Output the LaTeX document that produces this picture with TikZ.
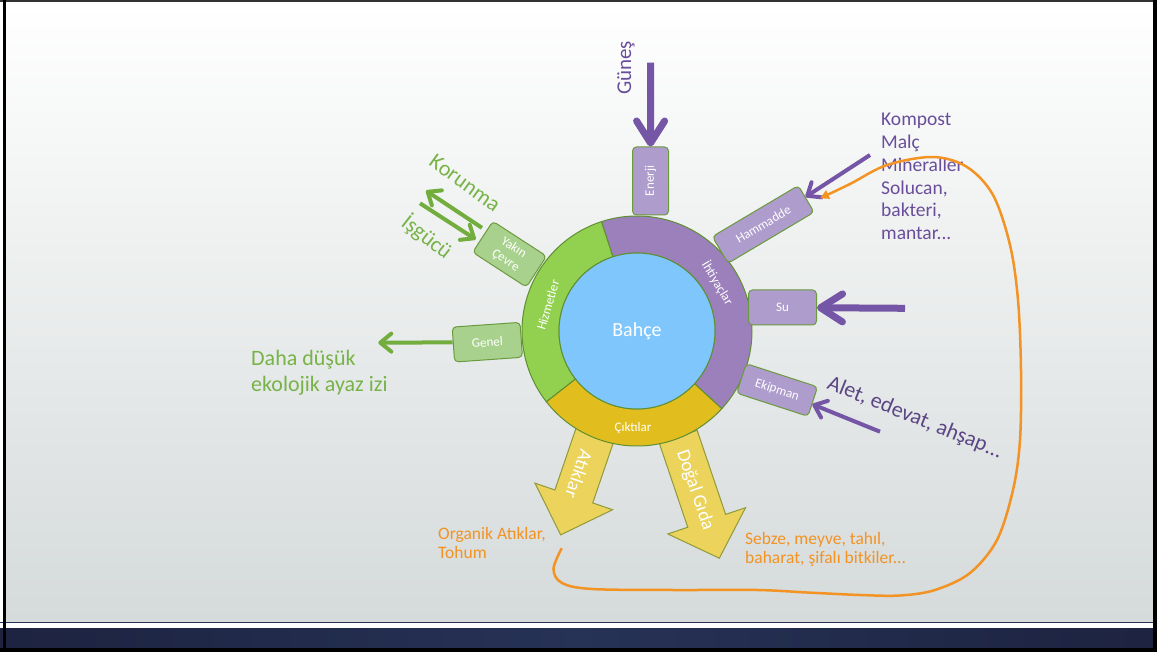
\documentclass[tikz,border=0pt]{standalone}
\usepackage{fontspec}
\setmainfont{Carlito}
\usetikzlibrary{arrows.meta,calc}
\definecolor{ringpurple}{HTML}{9B80BC}
\definecolor{ringgreen}{HTML}{92D050}
\definecolor{ringyellow}{HTML}{E1BE1E}
\definecolor{core}{HTML}{7FC6FC}
\definecolor{edge}{HTML}{5F8F32}
\definecolor{boxpurple}{HTML}{AE9CCC}
\definecolor{boxgreen}{HTML}{A9D18E}
\definecolor{boxedge}{HTML}{6B9A3C}
\definecolor{blockfill}{HTML}{EBD35C}
\definecolor{blockedge}{HTML}{8F9A3A}
\definecolor{arrpurple}{HTML}{7555A6}
\definecolor{txtpurple}{HTML}{6A4E9C}
\definecolor{txtdark}{HTML}{5B4585}
\definecolor{arrgreen}{HTML}{72AD3E}
\definecolor{txtgreen}{HTML}{77B347}
\definecolor{orng}{HTML}{F29324}
\definecolor{navy}{HTML}{263256}
\definecolor{navydark}{HTML}{1D2340}
\definecolor{bgmid}{HTML}{EDEFEF}
\definecolor{bgbottom}{HTML}{D5DADA}
\newcommand{\myfs}[1]{\fontsize{#1}{#1}\selectfont}
\begin{document}
\begin{tikzpicture}[x=1pt,y=-1pt,
  pbox/.style={draw=boxedge, fill=boxpurple, line width=1pt, rounded corners=4pt, text=white, font=\myfs{13}, inner sep=0pt},
  gbox/.style={pbox, fill=boxgreen},
  seg/.style={draw=edge, line width=1pt},
  ringlbl/.style={text=white, font=\myfs{13}, inner sep=0pt},
  bigp/.style={draw=arrpurple, line width=7pt, -{Straight Barb[length=22pt,width=28pt,round]}},
  thinp/.style={draw=arrpurple, line width=4pt, -{Straight Barb[length=11pt,width=18pt,round]}},
  thing/.style={thinp, draw=arrgreen},
  block/.style={fill=blockfill, draw=blockedge, line width=1pt},
  blocklbl/.style={text=white, font=\myfs{19}, inner sep=0pt},
  ptxt/.style={text=txtpurple, inner sep=0pt},
  gtxt/.style={text=txtgreen, inner sep=0pt},
  otxt/.style={text=orng, inner sep=0pt, align=left},
  orngline/.style={draw=orng, line width=2.5pt, -{Triangle[length=9pt,width=9pt]}}
]
\useasboundingbox (0,0) rectangle (1157,652);
% background and frame
\fill[white] (0,0) rectangle (1157,652);
\shade[top color=white, middle color=bgmid, bottom color=bgbottom] (5.5,2.5) rectangle (1153,621.5);
\fill[navy] (0,621.5) rectangle (1157,623);
\fill[white] (0,623) rectangle (1157,628);
\shade[left color=navydark, right color=navydark, middle color=navy] (0,628) rectangle (1157,648);
\fill[black] (0,648) rectangle (1157,652);
\fill[black!80] (0,0) rectangle (1157,2.5);
\fill[black] (2.5,0) rectangle (5.5,652);
\fill[black] (1153,0) rectangle (1157,652);

% output block arrows
\begin{scope}[shift={(594.5,436)}, rotate=-108.9]
  \draw[block] (-4,-20) -- (63.9,-20) -- (63.9,-41) -- (104.5,0) -- (63.9,41) -- (63.9,20) -- (-4,20) -- cycle;
\end{scope}
\begin{scope}[shift={(679.5,440.5)}, rotate=-71.3]
  \draw[block] (-4,-20) -- (84.8,-20) -- (84.8,-41) -- (124.3,0) -- (84.8,41) -- (84.8,20) -- (-4,20) -- cycle;
\end{scope}
\node[blocklbl, rotate=-108.9] (atik) at (579,474) {Atıklar};
\node[blocklbl, rotate=-71.3] (dogal) at (695,490) {Doğal Gıda};

% ring
\coordinate (C) at (637,331);
\filldraw[seg, fill=ringpurple] ($(C)+(-42.5:115pt)$) arc[start angle=-42.5, end angle=108, radius=115pt]
  -- ($(C)+(108:78pt)$) arc[start angle=108, end angle=-42.5, radius=78pt] -- cycle;
\filldraw[seg, fill=ringgreen] ($(C)+(108:115pt)$) arc[start angle=108, end angle=218, radius=115pt]
  -- ($(C)+(218:78pt)$) arc[start angle=218, end angle=108, radius=78pt] -- cycle;
\filldraw[seg, fill=ringyellow] ($(C)+(218:115pt)$) arc[start angle=218, end angle=317.5, radius=115pt]
  -- ($(C)+(317.5:78pt)$) arc[start angle=317.5, end angle=218, radius=78pt] -- cycle;
\filldraw[seg, fill=core] (C) circle[radius=78pt];
\node[text=white, font=\myfs{20}, inner sep=0pt] (bahce) at (C) {Bahçe};
\node[ringlbl, rotate=73.5] (hiz) at (548,305) {Hizmetler};
\node[ringlbl, rotate=-59] (iht) at (717.5,283) {İhtiyaçlar};
\node[ringlbl] (cik) at (633,428) {Çıktılar};

% boxes
\node[pbox, rotate=90, minimum width=68pt, minimum height=36pt] (en) at (650.5,181) {Enerji};
\node[pbox, rotate=30.7, minimum width=100pt, minimum height=31pt] (ham) at (763.2,224.4) {Hammadde};
\node[pbox, minimum width=68pt, minimum height=35pt] (su) at (782.5,307.5) {Su};
\node[pbox, rotate=-18, minimum width=75pt, minimum height=31pt] (ek) at (777.1,390) {Ekipman};
\node[gbox, rotate=-33, minimum width=64pt, minimum height=37pt, align=center, font=\fontsize{13}{15}\selectfont] (yak) at (509.6,254.2) {Yakın\\Çevre};
\node[gbox, rotate=4, minimum width=68pt, minimum height=35pt] (gen) at (487.3,342.2) {Genel};

% texts
\node[ptxt, font=\myfs{21}, rotate=90] (gun) at (626,68) {Güneş};
\node[ptxt, anchor=north west, align=left, font=\fontsize{19.5}{22.8}\selectfont] (komp) at (881,113) {Kompost\\Malç\\Mineraller\\Solucan,\\bakteri,\\mantar...};
\node[ptxt, text=txtdark, font=\myfs{22}, rotate=-22] (alet) at (915,418) {Alet, edevat, ahşap...};
\node[gtxt, font=\myfs{22}, rotate=-36] (kor) at (465,183) {Korunma};
\node[gtxt, font=\myfs{22}, rotate=-38] (isg) at (427,237) {İşgücü};
\node[gtxt, anchor=north west, align=left, font=\fontsize{22}{26}\selectfont] (daha) at (251,350) {Daha düşük\\ekolojik ayaz izi};
\node[otxt, anchor=north west, font=\fontsize{17.5}{18.5}\selectfont] (org) at (438,527.5) {Organik Atıklar,\\Tohum};
\node[otxt, anchor=north west, font=\fontsize{17.5}{19}\selectfont] (seb) at (745,532) {Sebze, meyve, tahıl,\\baharat, şifalı bitkiler...};

% connectors
\coordinate (gunin) at (650.7,62.7);
\draw[bigp] (gunin) -- (en);
\coordinate (suin) at (905,308.3);
\draw[bigp] (suin) -- (su);
\coordinate (hamin) at (870,155);
\draw[thinp] (hamin) -- (ham);
\coordinate (ekin) at (880,431.7);
\draw[thinp] (ekin) -- (ek);
\coordinate (genout) at (378.3,342.7);
\draw[thing] (gen) -- (genout);
\coordinate (korout) at (426,190.7);
\draw[thing, shorten <=5pt] ($(yak.west)!7pt!(yak.north west)$) -- (korout);
\coordinate (isgin) at (420,203.3);
\draw[thing, shorten >=4pt] (isgin) -- ($(yak.west)!6pt!(yak.south west)$);

% compost loop
\coordinate (orstart) at (561.7,548.3);
\coordinate (orend) at (820,198.3);
\draw[orngline] plot[smooth, tension=0.55] coordinates {(orstart) (553.5,569) (562,583) (592,589) (673,590) (757,590) (807,592.5) (860,595) (900,595.5) (935,590) (970,573) (997,540) (1013,490) (1020,440) (1021,370) (1018,300) (1010,245) (993,195) (967,167) (933,157) (887,165) (850,184) (orend)};
\end{tikzpicture}
\end{document}
